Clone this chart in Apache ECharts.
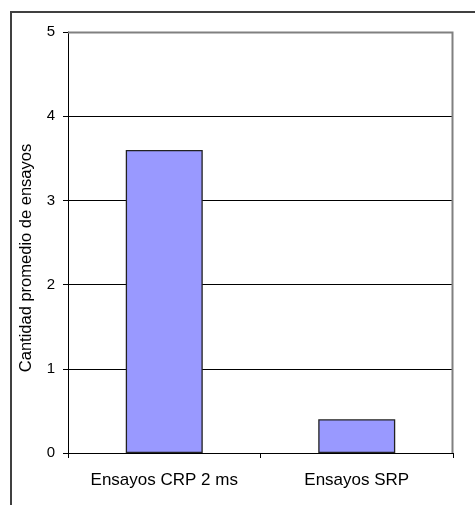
<!DOCTYPE html>
<html>
<head>
<meta charset="utf-8">
<style>
  html, body { margin: 0; padding: 0; background: #fff; }
  #frame { position: absolute; left: 10px; top: 11px; width: 480px; height: 510px; border: 2px solid #404040; box-sizing: border-box; }
  #chart { position: absolute; left: 0; top: 0; width: 475px; height: 505px; }
</style>
<script src="https://cdn.jsdelivr.net/npm/echarts@6/dist/echarts.min.js"></script>
</head>
<body>
<div id="frame"></div>
<div id="chart"></div>
<script>
// Average number of trials per condition
const categories = ['Ensayos CRP 2 ms', 'Ensayos SRP'];
const averageTrials = [3.6, 0.4];
const yTicks = [0, 1, 2, 3, 4, 5];
const yTitle = 'Cantidad promedio de ensayos';

const chart = echarts.init(document.getElementById('chart'), null, { renderer: 'canvas' });
const font = 'Arial, "Liberation Sans", sans-serif';

chart.setOption({
  animation: false,
  backgroundColor: 'transparent',
  grid: { left: 68, right: 22, top: 32, bottom: 52, show: false },
  xAxis: {
    type: 'category',
    data: categories,
    axisLine: { show: true, lineStyle: { color: '#000', width: 1 } },
    axisTick: { show: true, alignWithLabel: false, length: 5, lineStyle: { color: '#000' } },
    axisLabel: { color: '#000', fontSize: 17, fontFamily: font, margin: 19 },
    splitLine: { show: false }
  },
  yAxis: {
    type: 'value',
    min: yTicks[0],
    max: yTicks[yTicks.length - 1],
    interval: 1,
    axisLine: { show: true, lineStyle: { color: '#000', width: 1 } },
    axisTick: { show: true, length: 5, lineStyle: { color: '#000' } },
    axisLabel: { color: '#000', fontSize: 15, fontFamily: font, margin: 13 },
    splitLine: { show: true, lineStyle: { color: '#000', width: 1 } }
  },
  series: [
    {
      type: 'bar',
      data: averageTrials,
      barWidth: '40%',
      itemStyle: { color: '#9999ff', borderColor: '#222', borderWidth: 1.3 }
    }
  ],
  graphic: [
    // gray plot border on top and right
    {
      type: 'polyline',
      silent: true,
      z: 100,
      shape: { points: [[68, 32.5], [452.5, 32.5], [452.5, 453]] },
      style: { stroke: '#808080', lineWidth: 2, fill: null }
    },
    // value axis title, centred on the chart area
    {
      type: 'text',
      silent: true,
      x: 26.5,
      y: 258,
      rotation: Math.PI / 2,
      style: {
        text: yTitle,
        fill: '#000',
        font: '16.5px ' + font,
        align: 'center',
        verticalAlign: 'middle'
      }
    }
  ]
});
</script>
</body>
</html>
